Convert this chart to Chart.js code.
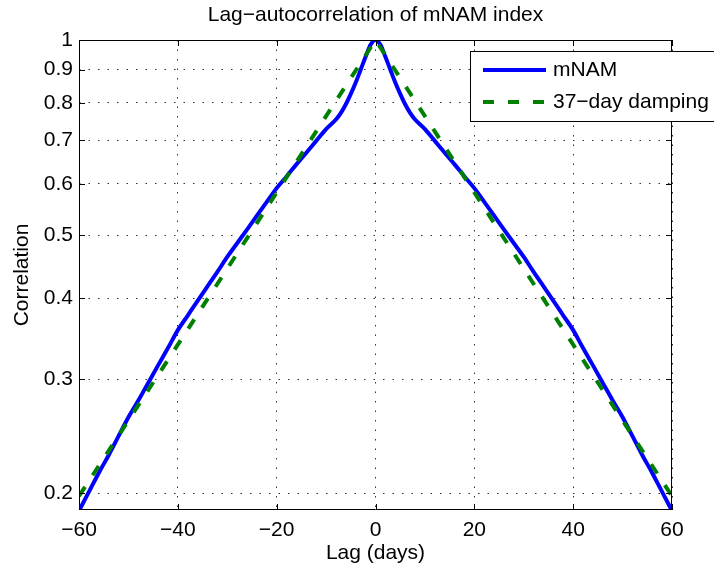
<!DOCTYPE html>
<html><head><meta charset="utf-8">
<script src="https://cdn.jsdelivr.net/npm/chart.js@4.4.1/dist/chart.umd.min.js"></script>
<style>html,body{margin:0;padding:0;background:#fff}#wrap{width:714px;height:572px}</style>
</head><body><div id="wrap"><canvas id="c" width="714" height="572"></canvas></div>
<script>
const chartTitle = 'Lag\u2212autocorrelation of mNAM index';
const xAxisTitle = 'Lag (days)';
const yAxisTitle = 'Correlation';
const seriesNames = ['mNAM', '37\u2212day damping'];
const xTicks = [-60, -40, -20, 0, 20, 40, 60];
const yTicks = [0.2, 0.3, 0.4, 0.5, 0.6, 0.7, 0.8, 0.9, 1];
const lagsMnam = [-60,-58,-56,-54,-52,-50,-48,-46,-44,-42,-40,-38,-36,-34,-32,-30,-28,-26,-24,-22,-20,-18,-16,-14,-12,-10,-8,-7,-6,-5,-4,-3,-2,-1,0,1,2,3,4,5,6,7,8,10,12,14,16,18,20,22,24,26,28,30,32,34,36,38,40,42,44,46,48,50,52,54,56,58,60];
const mnam = [0.188,0.201,0.215,0.229,0.245,0.262,0.278,0.296,0.315,0.335,0.357,0.376,0.396,0.417,0.439,0.463,0.486,0.510,0.536,0.563,0.591,0.616,0.643,0.670,0.699,0.729,0.754,0.772,0.796,0.826,0.860,0.900,0.942,0.983,1.000,0.983,0.942,0.900,0.860,0.826,0.796,0.772,0.754,0.729,0.699,0.670,0.643,0.616,0.591,0.563,0.536,0.510,0.486,0.463,0.439,0.417,0.396,0.376,0.357,0.335,0.315,0.296,0.278,0.262,0.245,0.229,0.215,0.201,0.188];
const lagsDamping = [-60,-50,-40,-30,-20,-10,0,10,20,30,40,50,60];
const damping = [0.198,0.259,0.339,0.444,0.582,0.763,1.000,0.763,0.582,0.444,0.339,0.259,0.198];

const FONT = '"Liberation Sans", Arial, Helvetica, sans-serif';
const FSIZE = 21;
Chart.defaults.font.family = FONT;
Chart.defaults.font.size = FSIZE;
Chart.defaults.color = '#000';

const colors = ['#0000ff', '#008000'];
const fmt = v => (v < 0 ? '\u2212' + Math.abs(v) : String(v));

const framePlugin = {
  id: 'frame',
  afterDatasetsDraw(chart) {
    const ctx = chart.ctx, a = chart.chartArea;
    const xs = chart.scales.x, ys = chart.scales.y;
    ctx.save();
    ctx.strokeStyle = '#000';
    ctx.lineWidth = 1;
    ctx.setLineDash([]);
    ctx.beginPath();
    ctx.rect(a.left + 0.5, a.top + 0.5, a.right - a.left - 1, a.bottom - a.top - 1);
    ctx.stroke();
    const tl = 6;
    ctx.beginPath();
    xTicks.forEach(v => {
      const p = Math.round(xs.getPixelForValue(v)) + 0.5;
      ctx.moveTo(p, a.bottom); ctx.lineTo(p, a.bottom - tl);
      ctx.moveTo(p, a.top); ctx.lineTo(p, a.top + tl);
    });
    yTicks.forEach(v => {
      const p = Math.round(ys.getPixelForValue(v)) + 0.5;
      ctx.moveTo(a.left, p); ctx.lineTo(a.left + tl, p);
      ctx.moveTo(a.right, p); ctx.lineTo(a.right - tl, p);
    });
    ctx.stroke();
    ctx.restore();
  },
  afterDraw(chart) {
    const ctx = chart.ctx, a = chart.chartArea;
    ctx.save();
    ctx.fillStyle = '#000';
    ctx.font = FSIZE + 'px ' + FONT;
    ctx.textAlign = 'center';
    ctx.textBaseline = 'middle';
    ctx.fillText(chartTitle, (a.left + a.right) / 2, 15);
    const bx = 470.5, by = 51.5, bw = 260, bh = 70;
    ctx.fillStyle = '#fff';
    ctx.fillRect(bx, by, bw, bh);
    ctx.strokeStyle = '#000';
    ctx.lineWidth = 1;
    ctx.strokeRect(bx, by, bw, bh);
    const rows = [70, 102];
    rows.forEach((ry, i) => {
      ctx.strokeStyle = colors[i];
      ctx.lineWidth = 4;
      ctx.lineCap = 'butt';
      ctx.setLineDash(i === 1 ? [11, 14] : []);
      ctx.beginPath();
      ctx.moveTo(483, ry); ctx.lineTo(546, ry);
      ctx.stroke();
      ctx.setLineDash([]);
      ctx.fillStyle = '#000';
      ctx.textAlign = 'left';
      ctx.textBaseline = 'middle';
      ctx.fillText(seriesNames[i], 553, ry);
    });
    ctx.restore();
  }
};

new Chart(document.getElementById('c'), {
  type: 'line',
  data: {
    datasets: [
      {
        label: seriesNames[0],
        data: lagsMnam.map((x, i) => ({x, y: mnam[i]})),
        borderColor: colors[0], backgroundColor: colors[0],
        borderWidth: 4, pointRadius: 0, cubicInterpolationMode: 'monotone',
        borderJoinStyle: 'round', clip: 0, order: 2
      },
      {
        label: seriesNames[1],
        data: lagsDamping.map((x, i) => ({x, y: damping[i]})),
        borderColor: colors[1], backgroundColor: colors[1],
        borderWidth: 4, pointRadius: 0, tension: 0,
        borderDash: [11, 14], borderCapStyle: 'butt', clip: 0, order: 1
      }
    ]
  },
  options: {
    responsive: false, animation: false, devicePixelRatio: 1,
    layout: {padding: {left: 0, top: 40, right: 42, bottom: 0}},
    plugins: {legend: {display: false}, title: {display: false}, tooltip: {enabled: false}},
    scales: {
      x: {
        type: 'linear', min: -60, max: 60,
        afterBuildTicks: s => { s.ticks = xTicks.map(v => ({value: v})); },
        afterFit: s => { s.height = 62; },
        ticks: {callback: v => fmt(v), padding: 8, maxRotation: 0, autoSkip: false},
        grid: {color: '#333', lineWidth: 1, drawTicks: false},
        border: {display: false, dash: [1.5, 8]},
        title: {display: true, text: xAxisTitle, padding: {top: 0, bottom: 6}}
      },
      y: {
        type: 'logarithmic', min: 0.1885, max: 1,
        afterBuildTicks: s => { s.ticks = yTicks.map(v => ({value: v})); },
        afterFit: s => { s.width = 79; },
        ticks: {callback: v => String(v), padding: 6, autoSkip: false},
        grid: {color: '#333', lineWidth: 1, drawTicks: false},
        border: {display: false, dash: [1.5, 8]},
        title: {display: true, text: yAxisTitle, padding: {top: 10, bottom: 0}}
      }
    }
  },
  plugins: [framePlugin]
});
</script>
</body></html>
